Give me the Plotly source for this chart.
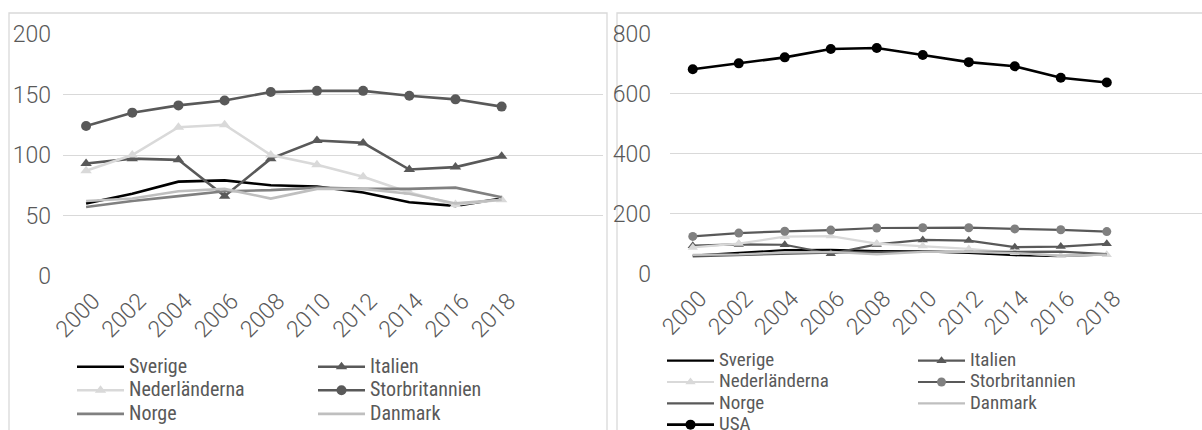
import plotly.graph_objects as go

# ---- data ----
years = [2000, 2002, 2004, 2006, 2008, 2010, 2012, 2014, 2016, 2018]
tick_years = [2000, 2002, 2004, 2006, 2008, 2010, 2012, 2014, 2016, 2018]
sverige = [60, 68, 78, 79, 75, 74, 69, 61, 58, 64]
italien = [93, 97, 96, 66, 97, 112, 110, 88, 90, 99]
nederlanderna = [87, 100, 123, 125, 100, 92, 82, 69, 59, 63]
storbritannien = [124, 135, 141, 145, 152, 153, 153, 149, 146, 140]
norge = [57, 62, 66, 70, 71, 73, 72, 72, 73, 65]
danmark = [62, 64, 70, 72, 64, 72, 72, 68, 60, 63]
usa = [682, 702, 722, 750, 753, 730, 706, 692, 654, 638]
left_yticks = [0, 50, 100, 150, 200]
right_yticks = [0, 200, 400, 600, 800]

W, H = 1202, 430
def px(x):
    return x / W
def py(y):
    return 1 - y / H

TICKFONT = dict(family="Roboto", size=23, color="#595959", weight=300)
LEGFONT = "Liberation Sans Narrow, Roboto Condensed, DejaVu Sans Condensed, Roboto"

def lab(name, size=20):
    return '<span style="font-size:%dpx">' % size + name + '</span>'

fig = go.Figure()

series = [
    # name, values, color, marker symbol, marker color, left legend, right legend, right color
    ("Sverige", sverige, "#000000", None, None, "legend", "legend3", "#000000"),
    ("Italien", italien, "#595959", "triangle-up", "#595959", "legend2", "legend4", "#595959"),
    ("Nederländerna", nederlanderna, "#d9d9d9", "triangle-up", "#d9d9d9", "legend", "legend3", "#d9d9d9"),
    ("Storbritannien", storbritannien, "#595959", "circle", "#595959", "legend2", "legend4", "#595959"),
    ("Norge", norge, "#808080", None, None, "legend", "legend3", "#595959"),
    ("Danmark", danmark, "#bfbfbf", None, None, "legend2", "legend4", "#bfbfbf"),
]

for name, vals, col, sym, mcol, lg, rg, rcol in series:
    mode = "lines+markers" if sym else "lines"
    mk = dict(symbol=sym, size=10, color=mcol) if sym else None
    fig.add_trace(go.Scatter(x=years, y=vals, mode=mode, name=lab(name, 20),
                             line=dict(color=col, width=2.6), marker=mk,
                             xaxis="x", yaxis="y", legend=lg, cliponaxis=False))
for name, vals, col, sym, mcol, lg, rg, rcol in series:
    mode = "lines+markers" if sym else "lines"
    rm = "#808080" if name == "Storbritannien" else mcol
    mk = dict(symbol=sym, size=9, color=rm) if sym else None
    fig.add_trace(go.Scatter(x=years, y=vals, mode=mode, name=lab(name, 19),
                             line=dict(color=rcol, width=2.2), marker=mk,
                             xaxis="x2", yaxis="y2", legend=rg, cliponaxis=False))
fig.add_trace(go.Scatter(x=years, y=usa, mode="lines+markers", name=lab("USA", 19),
                         line=dict(color="#000000", width=2.6),
                         marker=dict(symbol="circle", size=10, color="#000000"),
                         xaxis="x2", yaxis="y2", legend="legend3", cliponaxis=False))

xcommon = dict(tickmode="array", tickvals=tick_years, ticktext=[str(t) for t in tick_years],
               tickangle=-45, tickfont=TICKFONT, showgrid=False, zeroline=False,
               showline=False, ticks="", automargin=False, ticklabelshift=7, ticklabelstandoff=6)
ycommon = dict(tickmode="array", tickfont=TICKFONT, showgrid=True, gridcolor="#d9d9d9",
               gridwidth=1.3, zeroline=False, showline=False, ticks="", automargin=False)

fig.update_layout(
    template="none",
    width=W, height=H, margin=dict(l=0, r=0, t=0, b=0, autoexpand=False),
    paper_bgcolor="white", plot_bgcolor="white",
    xaxis=dict(domain=[px(63), px(603)], range=[1999.0, 2022.39], anchor="y", **xcommon),
    yaxis=dict(domain=[py(276), py(34)], range=[0, 200], anchor="x", ticklabelstandoff=11,
               tickvals=left_yticks, ticktext=[str(v) for v in left_yticks], **ycommon),
    xaxis2=dict(domain=[px(670), 1.0], range=[1999.01, 2022.14], anchor="y2", **xcommon),
    yaxis2=dict(domain=[py(273.5), py(34)], range=[0, 800], anchor="x2", ticklabelstandoff=18,
                tickvals=right_yticks, ticktext=[str(v) for v in right_yticks], **ycommon),
    showlegend=True,
)

legcommon = dict(orientation="v", xanchor="left", yanchor="top", bgcolor="rgba(0,0,0,0)",
                 tracegroupgap=0, itemwidth=47, traceorder="normal", borderwidth=0)
fig.update_layout(
    legend=dict(x=px(72), y=py(350), font=dict(family=LEGFONT, color="#595959", size=15.8), **legcommon),
    legend2=dict(x=px(313), y=py(350), font=dict(family=LEGFONT, color="#595959", size=15.8), **legcommon),
    legend3=dict(x=px(662), y=py(345), font=dict(family=LEGFONT, color="#595959", size=14.1), **legcommon),
    legend4=dict(x=px(913), y=py(345), font=dict(family=LEGFONT, color="#595959", size=14.1), **legcommon),
)

fig.add_shape(type="rect", xref="paper", yref="paper", x0=px(9), x1=px(607), y0=-0.2, y1=py(13),
              line=dict(color="#d9d9d9", width=1.3), fillcolor="rgba(0,0,0,0)", layer="below")
fig.add_shape(type="rect", xref="paper", yref="paper", x0=px(617), x1=1.2, y0=-0.2, y1=py(13),
              line=dict(color="#d9d9d9", width=1.3), fillcolor="rgba(0,0,0,0)", layer="below")

fig.write_html("out.html", config={"displayModeBar": False},
               post_script="document.body.style.margin='0';document.body.style.overflow='hidden';")
